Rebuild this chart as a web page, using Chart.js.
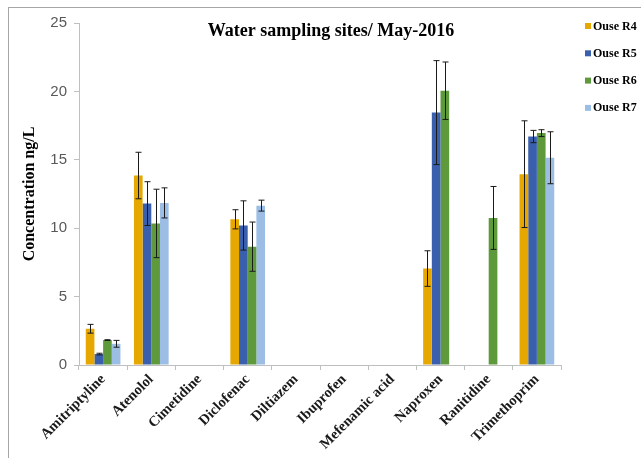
<!DOCTYPE html>
<html>
<head>
<meta charset="utf-8">
<title>Water sampling sites</title>
<script src="https://cdn.jsdelivr.net/npm/chart.js@4.4.0/dist/chart.umd.min.js"></script>
<style>
  html, body { margin: 0; padding: 0; background: #fff; }
  #wrap { position: relative; width: 641px; height: 458px; }
  #frame { position: absolute; left: 8px; top: 7px; right: 0; bottom: 0;
           border-top: 1px solid #a6a6a6; border-left: 1px solid #a6a6a6; pointer-events: none; }
</style>
</head>
<body>
<div id="wrap">
  <canvas id="myChart" width="641" height="458"></canvas>
  <div id="frame"></div>
</div>
<script>
var drugs = ['Amitriptyline', 'Atenolol', 'Cimetidine', 'Diclofenac', 'Diltiazem',
             'Ibuprofen', 'Mefenamic acid', 'Naproxen', 'Ranitidine', 'Trimethoprim'];
var sites = ['Ouse R4', 'Ouse R5', 'Ouse R6', 'Ouse R7'];
var siteColors = ['#e6a800', '#3a60ad', '#5e9a3c', '#9cbee5'];

// mean concentrations, ng/L
var r4 = [2.65, 13.85, 0, 10.65, 0, 0, 0, 7.05, 0, 13.95];
var r5 = [0.8, 11.8, 0, 10.2, 0, 0, 0, 18.45, 0, 16.7];
var r6 = [1.82, 10.35, 0, 8.65, 0, 0, 0, 20.05, 10.75, 16.95];
var r7 = [1.55, 11.85, 0, 11.65, 0, 0, 0, 0, 0, 15.15];

// +/- error
var r4Err = [0.32, 1.7, 0, 0.7, 0, 0, 0, 1.3, 0, 3.9];
var r5Err = [0.06, 1.6, 0, 1.8, 0, 0, 0, 3.8, 0, 0.45];
var r6Err = [0.03, 2.5, 0, 1.8, 0, 0, 0, 2.1, 2.3, 0.25];
var r7Err = [0.25, 1.1, 0, 0.4, 0, 0, 0, 0, 0, 1.9];

var yTicks = [0, 5, 10, 15, 20, 25];

var seriesValues = [r4, r5, r6, r7];
var seriesErrors = [r4Err, r5Err, r6Err, r7Err];

var serif = "'Liberation Serif', 'Times New Roman', serif";

var errorBars = {
  id: 'errorBars',
  afterDatasetsDraw: function(chart) {
    var ctx = chart.ctx;
    var y = chart.scales.y;
    ctx.save();
    ctx.strokeStyle = '#1a1a1a';
    ctx.lineWidth = 1;
    chart.data.datasets.forEach(function(ds, d) {
      var meta = chart.getDatasetMeta(d);
      meta.data.forEach(function(bar, i) {
        var e = ds.errors[i];
        if (!e) return;
        var x = Math.round(bar.x) + 0.5;
        var top = y.getPixelForValue(ds.data[i] + e);
        var bot = y.getPixelForValue(ds.data[i] - e);
        ctx.beginPath();
        ctx.moveTo(x, top); ctx.lineTo(x, bot);
        ctx.moveTo(x - 3, top); ctx.lineTo(x + 3, top);
        ctx.moveTo(x - 3, bot); ctx.lineTo(x + 3, bot);
        ctx.stroke();
      });
    });
    ctx.restore();
  }
};

// title and legend sit inside the plot frame, so they are drawn here
var titleAndLegend = {
  id: 'titleAndLegend',
  afterDraw: function(chart) {
    var ctx = chart.ctx;
    ctx.save();
    ctx.fillStyle = '#000';
    ctx.font = 'bold 18px ' + serif;
    ctx.textAlign = 'center';
    ctx.textBaseline = 'middle';
    ctx.fillText('Water sampling sites/ May-2016', 331, 31);

    ctx.font = 'bold 12px ' + serif;
    ctx.textAlign = 'left';
    chart.data.datasets.forEach(function(ds, d) {
      var cy = 26 + d * 27.3;
      ctx.fillStyle = ds.backgroundColor;
      ctx.fillRect(585, cy - 3, 6, 6);
      ctx.fillStyle = '#000';
      ctx.fillText(ds.label, 593, cy + 0.5);
    });
    ctx.restore();
  }
};

var datasets = sites.map(function(name, k) {
  return {
    label: name,
    data: seriesValues[k],
    errors: seriesErrors[k],
    backgroundColor: siteColors[k],
    borderWidth: 0,
    barPercentage: 1,
    categoryPercentage: 0.72
  };
});

var ctx = document.getElementById('myChart').getContext('2d');
var myChart = new Chart(ctx, {
  type: 'bar',
  data: { labels: drugs, datasets: datasets },
  plugins: [errorBars, titleAndLegend],
  options: {
    responsive: false,
    animation: false,
    layout: { padding: { left: 0, right: 80, top: 23, bottom: 0 } },
    plugins: {
      legend: { display: false },
      title: { display: false },
      tooltip: { enabled: false }
    },
    scales: {
      x: {
        afterFit: function(scale) { scale.height = 93; },
        grid: { drawOnChartArea: false, color: '#bfbfbf', tickLength: 5, offset: true },
        border: { color: '#bfbfbf' },
        ticks: {
          minRotation: 45, maxRotation: 45, padding: 1,
          color: '#1a1a1a',
          font: { family: serif, size: 14.5, weight: 'bold' }
        }
      },
      y: {
        min: 0, max: 25,
        afterFit: function(scale) { scale.width = 79; },
        afterBuildTicks: function(scale) {
          scale.ticks = yTicks.map(function(v) { return { value: v }; });
        },
        grid: { drawOnChartArea: false, color: '#bfbfbf', tickLength: 5 },
        border: { color: '#bfbfbf' },
        ticks: {
          padding: 7, color: '#595959',
          font: { family: "'Liberation Sans', Arial, sans-serif", size: 15 }
        },
        title: {
          display: true,
          text: 'Concentration ng/L',
          color: '#000',
          padding: { top: 20, bottom: 0 },
          font: { family: serif, size: 16, weight: 'bold' }
        }
      }
    }
  }
});
</script>
</body>
</html>
